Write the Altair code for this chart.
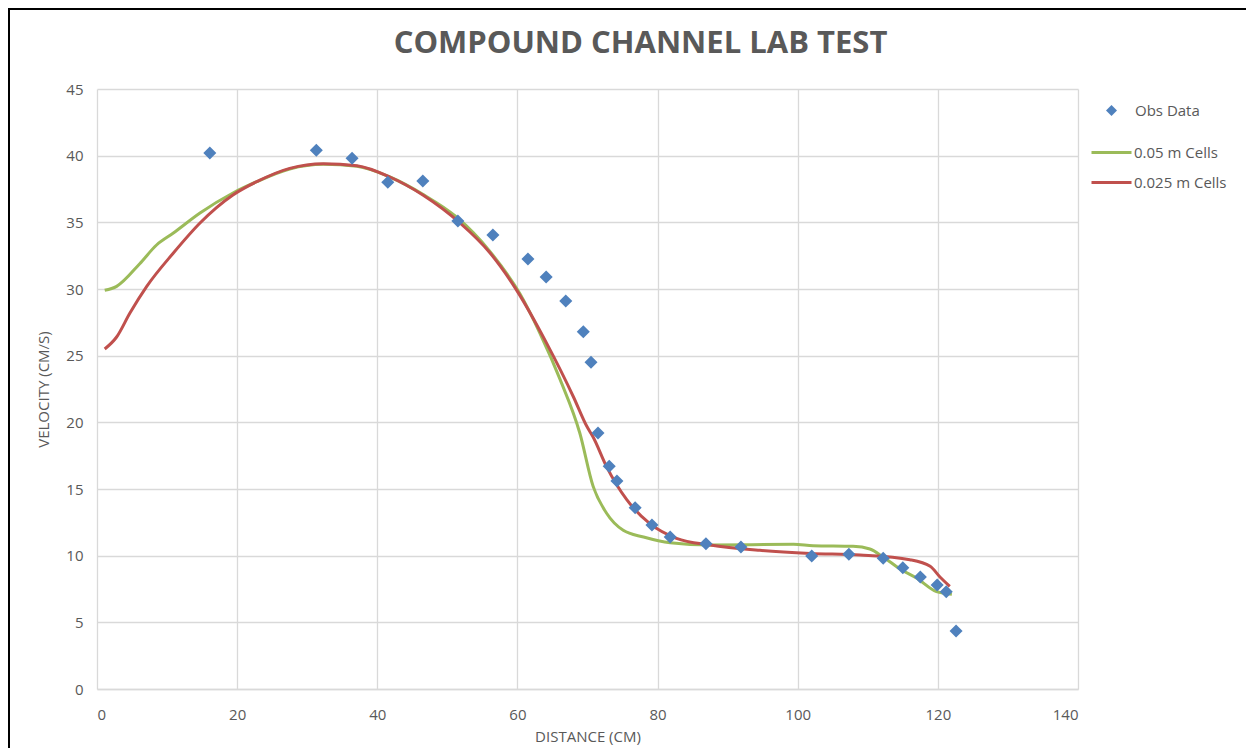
import altair as alt
import pandas as pd

# Observed data
obs_x = [16.1, 31.3, 36.4, 41.5, 46.5, 51.5, 56.5, 61.5, 64.1, 66.9, 69.4, 70.5,
         71.5, 73.1, 74.2, 76.8, 79.2, 81.8, 86.9, 91.9, 102.0, 107.3, 112.2,
         115.0, 117.5, 119.9, 121.2, 122.6]
obs_y = [40.2, 40.4, 39.8, 38.0, 38.1, 35.1, 34.05, 32.25, 30.9, 29.1, 26.8, 24.5,
         19.2, 16.7, 15.6, 13.6, 12.3, 11.4, 10.9, 10.65, 9.98, 10.1, 9.8,
         9.1, 8.4, 7.8, 7.3, 4.35]

# 0.05 m cells model
g_x = [1.1, 2.8, 6.1, 8.5, 10.9, 14.7, 19.4, 22.8, 27.5, 32.3, 37.1, 41.8, 46.5,
       51.3, 56.1, 60.4, 63.2, 66.1, 68.9, 70.8, 72.7, 75.1, 78.0, 81.8, 87.5,
       99.4, 102.2, 107.9, 110.3, 112.2, 114.6, 117.0, 119.8, 122.0]
g_y = [29.9, 30.2, 31.9, 33.3, 34.2, 35.7, 37.2, 38.05, 39.0, 39.35, 39.2, 38.4, 37.1,
       35.4, 32.8, 29.6, 26.7, 23.2, 19.2, 15.2, 13.2, 11.9, 11.4, 10.97, 10.8,
       10.85, 10.75, 10.7, 10.5, 9.9, 9.0, 8.3, 7.3, 7.1]

# 0.025 m cells model
r_x = [1.1, 2.8, 4.7, 7.1, 10.9, 14.7, 19.4, 22.8, 27.5, 32.3, 37.1, 41.8, 46.5,
       51.8, 56.1, 59.9, 64.2, 68.0, 69.9, 70.8, 72.7, 75.6, 78.9, 82.7, 87.5,
       94.6, 101.8, 108.9, 116.0, 118.9, 120.3, 121.7]
r_y = [25.5, 26.4, 28.2, 30.2, 32.7, 34.95, 37.05, 38.05, 39.05, 39.4, 39.25, 38.4, 37.05,
       34.95, 32.7, 29.9, 25.9, 21.9, 19.7, 18.9, 16.7, 14.2, 12.4, 11.3, 10.8,
       10.4, 10.17, 10.05, 9.7, 9.2, 8.4, 7.7]

FONT = "Open Sans"
GRAY = "#595959"

obs = pd.DataFrame({"x": obs_x, "y": obs_y, "series": "Obs Data"})
lines = pd.concat([
    pd.DataFrame({"x": g_x, "y": g_y, "series": "0.05 m Cells", "o": range(len(g_x))}),
    pd.DataFrame({"x": r_x, "y": r_y, "series": "0.025 m Cells", "o": range(len(r_x))}),
])

xs = alt.Scale(domain=[0, 140], nice=False)
ys = alt.Scale(domain=[0, 45], nice=False)
xax = alt.Axis(title="DISTANCE (CM)", values=list(range(0, 141, 20)), grid=True,
               ticks=False, labelPadding=18, titlePadding=7)
yax = alt.Axis(title="VELOCITY (CM/S)", values=list(range(0, 46, 5)), grid=True,
               ticks=False, domain=False, labelPadding=14, titlePadding=14)

# chart border frame (decoration)
frame = alt.Chart(pd.DataFrame({"k": [0]})).mark_rect(
    fill=None, stroke="black", strokeWidth=2
).encode(x=alt.value(-88), y=alt.value(-80), x2=alt.value(1200), y2=alt.value(720))

line_layer = alt.Chart(lines).mark_line(strokeWidth=3, interpolate="monotone").encode(
    x=alt.X("x:Q", scale=xs, axis=xax),
    y=alt.Y("y:Q", scale=ys, axis=yax),
    order="o:Q",
    color=alt.Color("series:N",
                    scale=alt.Scale(domain=["0.05 m Cells", "0.025 m Cells"],
                                    range=["#9BBB59", "#C0504D"]),
                    legend=alt.Legend(title=None, orient="none", legendX=993, legendY=42,
                                      symbolType="stroke", symbolSize=1600,
                                      symbolStrokeWidth=3, labelOffset=1, rowPadding=0,
                                      labelFontSize=15, labelColor=GRAY, labelFont=FONT)),
)

pt_layer = alt.Chart(obs).mark_point(filled=True, size=170, opacity=1, color="#4F81BD").encode(
    x=alt.X("x:Q", scale=xs, axis=xax),
    y=alt.Y("y:Q", scale=ys, axis=yax),
    shape=alt.Shape("series:N", scale=alt.Scale(domain=["Obs Data"], range=["diamond"]),
                    legend=alt.Legend(title=None, orient="none", legendX=1007, legendY=14,
                                      symbolFillColor="#4F81BD", symbolStrokeColor="#4F81BD",
                                      symbolSize=120, labelOffset=16,
                                      labelFontSize=15, labelColor=GRAY, labelFont=FONT)),
)

chart = alt.layer(frame, line_layer, pt_layer).resolve_legend(color="independent", shape="independent").properties(
    width=981, height=600,
    background="white",
    autosize=alt.AutoSizeParams(type="none"),
    padding={"left": 89, "top": 81, "right": 168, "bottom": 59},
    title=alt.Title("COMPOUND CHANNEL LAB TEST", fontSize=31, font=FONT, fontWeight="bold",
                    color=GRAY, offset=-52, dx=53, frame="group"),
).configure_axis(
    labelFont=FONT, labelFontSize=15, labelColor=GRAY,
    titleFont=FONT, titleFontSize=15, titleColor=GRAY, titleFontWeight="normal",
    gridColor="#D9D9D9", gridWidth=1.3, domainColor="#D9D9D9", domainWidth=1.3,
).configure_view(stroke=None)

chart.save("out.html", embed_options={"renderer": "svg", "actions": False})
